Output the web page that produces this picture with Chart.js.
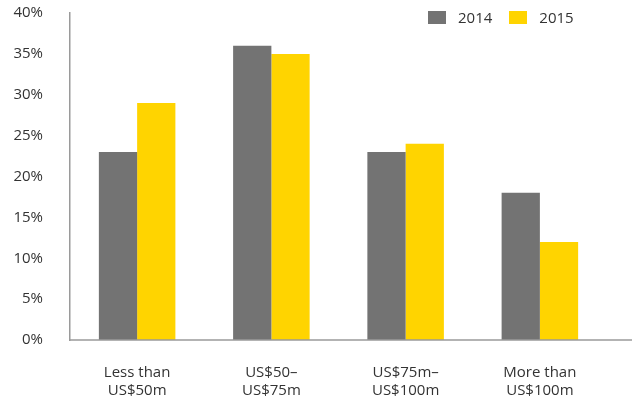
<!DOCTYPE html>
<html><head><meta charset="utf-8">
<script src="https://cdn.jsdelivr.net/npm/chart.js@4/dist/chart.umd.min.js"></script>
<style>
html,body{margin:0;padding:0;background:#fff;}
#wrap{position:relative;width:637px;height:405px;}
#legend{position:absolute;top:7px;left:428px;font:15px "Open Sans",sans-serif;color:#333;display:flex;align-items:center;}
#legend span.box{display:inline-block;width:18px;height:13px;margin-right:12px;}
#legend span.lab{margin-right:17px;}
</style></head>
<body><div id="wrap"><canvas id="c" width="637" height="405"></canvas>
<div id="legend"></div></div>
<script>
const categories = [["Less than","US$50m"],["US$50–","US$75m"],["US$75m–","US$100m"],["More than","US$100m"]];
const seriesNames = ["2014","2015"];
const values2014 = [23, 36, 23, 18];
const values2015 = [29, 35, 24, 12];
const colors = ["#737373","#FFD400"];

const lg = document.getElementById('legend');
seriesNames.forEach((n,i)=>{
  lg.innerHTML += '<span class="box" style="background:'+colors[i]+'"></span><span class="lab">'+n+'</span>';
});

const axisLine = {
  id:'axisLine',
  afterDraw(chart){
    const {ctx, chartArea} = chart;
    ctx.save();
    ctx.strokeStyle = '#9a9a9a';
    ctx.lineWidth = 1.5;
    ctx.beginPath();
    ctx.moveTo(chartArea.left, chartArea.bottom);
    ctx.lineTo(632, chartArea.bottom);
    ctx.stroke();
    ctx.restore();
  }
};

new Chart(document.getElementById('c'), {
  type:'bar',
  data:{
    labels: categories,
    datasets:[
      {label:seriesNames[0], data:values2014, backgroundColor:colors[0], categoryPercentage:0.57, barPercentage:1},
      {label:seriesNames[1], data:values2015, backgroundColor:colors[1], categoryPercentage:0.57, barPercentage:1}
    ]
  },
  options:{
    responsive:false,
    animation:false,
    layout:{padding:{top:13,right:30,left:0,bottom:0}},
    plugins:{legend:{display:false},tooltip:{enabled:false}},
    scales:{
      x:{
        grid:{display:false, drawTicks:false},
        border:{display:false},
        ticks:{color:'#333', font:{family:'"Open Sans"', size:15}, padding:24, maxRotation:0, autoSkip:false},
        afterFit(s){ s.height = 65; s.paddingLeft = 0; s.paddingRight = 0; }
      },
      y:{
        min:0, max:40,
        grid:{display:false, drawTicks:false},
        border:{display:true, color:'#9a9a9a', width:1.5},
        ticks:{stepSize:5, color:'#333', font:{family:'"Open Sans"', size:15}, padding:27, callback:v=>v+'%'},
        afterFit(s){ s.width = 70; s.paddingTop = 0; s.paddingBottom = 0; }
      }
    }
  },
  plugins:[axisLine]
});
</script></body></html>
